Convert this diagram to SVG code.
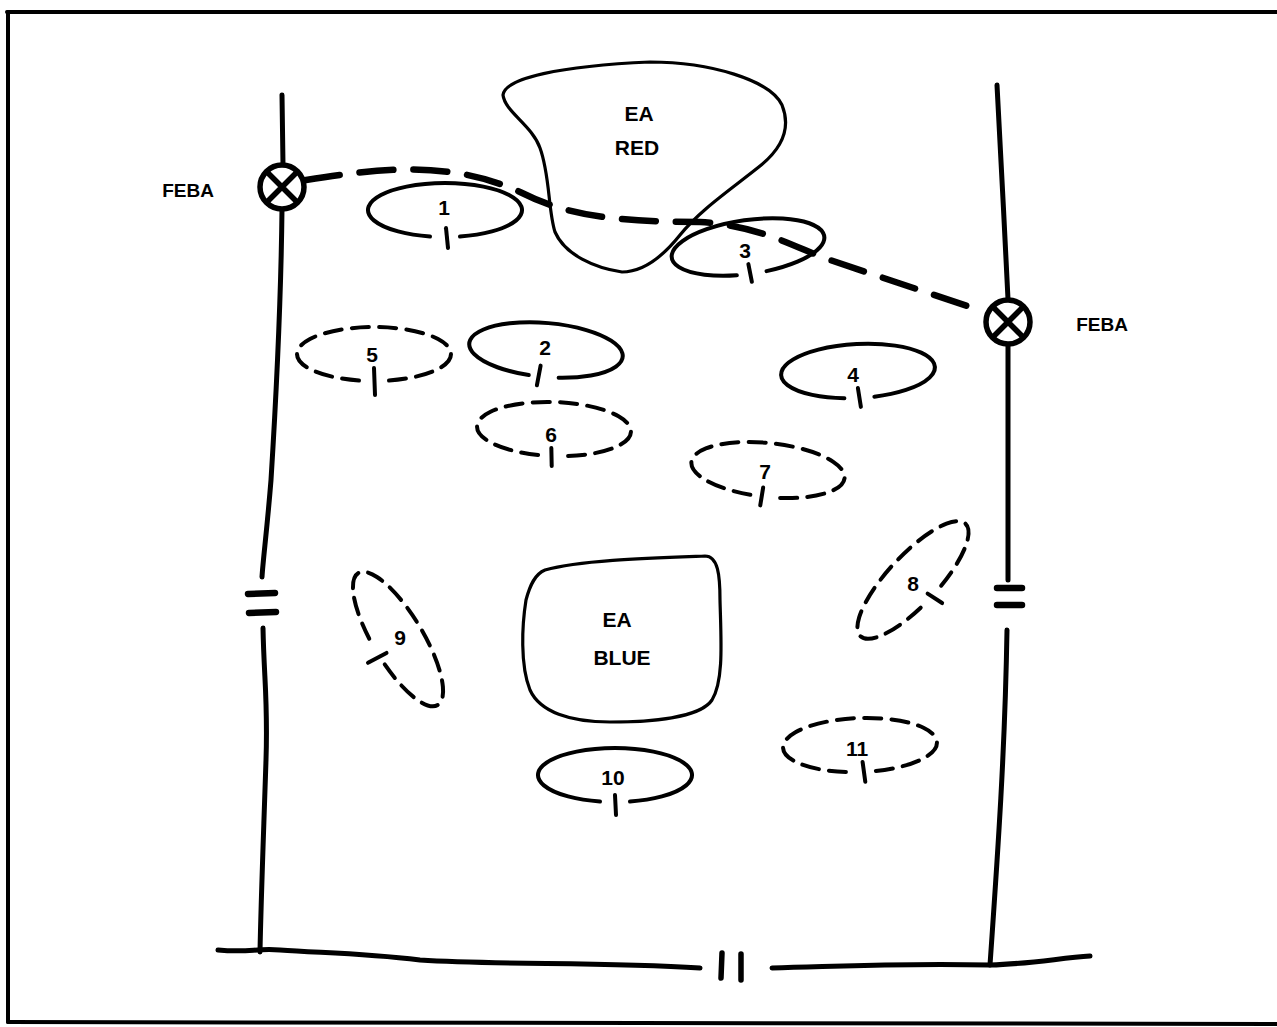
<svg xmlns="http://www.w3.org/2000/svg" xmlns:xlink="http://www.w3.org/1999/xlink" width="1277" height="1027" viewBox="0 0 1277 1027">
<style>
.ln{fill:none;stroke:#000;stroke-linecap:round;stroke-linejoin:round}
.el{fill:none;stroke:#000;stroke-width:4;stroke-linecap:round}
.dash{stroke-dasharray:5.4 3.2}
.tk{fill:none;stroke:#000;stroke-width:4;stroke-linecap:round}
.t{font-family:"Liberation Sans",Arial,sans-serif;font-weight:bold;font-size:21px;fill:#000;text-anchor:middle}
.f{font-family:"Liberation Sans",Arial,sans-serif;font-weight:bold;font-size:19px;fill:#000;text-anchor:middle}
.blob{fill:none;stroke:#000;stroke-width:3.2;stroke-linejoin:round}
</style>
<defs>
<path id="ell" pathLength="100" d="M-15,26.5 A77,27 0 1 1 15,26.5"/>
<path id="ellT" pathLength="100" d="M-15,24.5 A77,25 0 1 1 15,24.5"/>
<g id="xc"><circle cx="0" cy="0" r="22" fill="#fff" stroke="#000" stroke-width="5.5"/><path d="M-15,-15 L15,15 M15,-15 L-15,15" stroke="#000" stroke-width="5.5" stroke-linecap="round"/></g>
</defs>
<rect width="1277" height="1027" fill="#fff"/>
<g id="frame" class="ln" stroke-width="4">
<path d="M7,12 L1277,12"/>
<path d="M8,12 L8,1022"/>
<path d="M8,1022 L1277,1024"/>
</g>
<g id="boundaries" class="ln" stroke-width="5">
<path d="M282,95 L283,165"/>
<path d="M282,209 C281,300 276,400 271,480 C267,530 263,560 262,577"/>
<path d="M263,628 C264,680 268,700 266,760 C263,850 261,900 260,952"/>
<path d="M248,594 L275,593 M249,613 L276,612" stroke-width="6.5"/>
<path d="M997,85 C1000,150 1005,230 1008,299"/>
<path d="M1008,345 L1008,580"/>
<path d="M1007,630 C1005,750 998,850 990,965"/>
<path d="M997,588 L1022,588 M997,605 L1022,605" stroke-width="6.5"/>
<path d="M218,950 C250,953 255,948 280,950 C320,953 360,953 420,960 C500,965 600,962 700,968"/>
<path d="M772,968 C850,966 900,963 990,965 C1030,964 1060,958 1090,956"/>
<path d="M722,953 L721,978 M741,954 L741,980" stroke-width="5.5"/>
</g>
<g id="connectors">
<path id="feba-line" class="ln" stroke-width="6.5" stroke-dasharray="34 20" d="M306,180 C380,168 450,160 520,192 C560,212 600,222 700,222 C760,225 800,250 830,260 L985,312"/>
</g>
<g id="feba-left"><use xlink:href="#xc" transform="translate(282,187)"/><text class="f" x="188" y="197">FEBA</text></g>
<g id="feba-right"><use xlink:href="#xc" transform="translate(1008,322)"/><text class="f" x="1102" y="331">FEBA</text></g>
<g id="ea-red"><path class="blob" d="M503,95 C505,78 560,66 650,62 C710,62 770,80 782,105 C792,130 780,150 760,166 C730,190 700,210 680,235 C660,260 640,272 622,272 C595,268 565,255 555,232 C548,210 550,175 540,148 C532,125 505,112 503,95 Z"/><text class="t" x="639" y="121">EA</text><text class="t" x="637" y="155">RED</text></g>
<g id="ea-blue"><path class="blob" d="M545,570 C580,560 650,558 705,556 C718,556 720,575 720,600 C721,640 724,680 712,700 C700,718 650,722 610,722 C570,722 540,712 530,690 C520,665 522,625 526,600 C530,585 535,574 545,570 Z"/><text class="t" x="617" y="627">EA</text><text class="t" x="622" y="665">BLUE</text></g>
<g id="p1"><g transform="translate(445,210)"><use xlink:href="#ell" class="el"/><path class="tk" d="M1,18 L3,38"/></g><text class="t" x="444" y="215">1</text></g>
<g id="p2"><g transform="translate(546,350) rotate(5)"><use xlink:href="#ell" class="el"/><path class="tk" d="M-4,16 L-6,36"/></g><text class="t" x="545" y="355">2</text></g>
<g id="p3"><g transform="translate(748,247) rotate(-8)"><use xlink:href="#ell" class="el"/><path class="tk" d="M-2,17 L-1,35"/></g><text class="t" x="745" y="258">3</text></g>
<g id="p4"><g transform="translate(858,371) rotate(-3)"><use xlink:href="#ell" class="el"/><path class="tk" d="M-1,17 L1,36"/></g><text class="t" x="853" y="382">4</text></g>
<g id="p5"><g transform="translate(374,354)"><use xlink:href="#ell" class="el dash"/><path class="tk" d="M0,14 L1,41"/></g><text class="t" x="372" y="362">5</text></g>
<g id="p6"><g transform="translate(554,429) rotate(2)"><use xlink:href="#ell" class="el dash"/><path class="tk" d="M-2,19 L-1,37"/></g><text class="t" x="551" y="442">6</text></g>
<g id="p7"><g transform="translate(768,470) rotate(6)"><use xlink:href="#ell" class="el dash"/><path class="tk" d="M-3,18 L-4,36"/></g><text class="t" x="765" y="479">7</text></g>
<g id="p8"><g transform="translate(913,580) rotate(-47)"><use xlink:href="#ellT" class="el dash"/><path class="tk" d="M0,20 L3,37"/></g><text class="t" x="913" y="591">8</text></g>
<g id="p9"><g transform="translate(398,639) rotate(59)"><use xlink:href="#ellT" class="el dash"/><path class="tk" d="M6,17 L5,38"/></g><text class="t" x="400" y="645">9</text></g>
<g id="p10"><g transform="translate(615,775)"><use xlink:href="#ell" class="el"/><path class="tk" d="M0,20 L1,40"/></g><text class="t" x="613" y="785">10</text></g>
<g id="p11"><g transform="translate(860,745) rotate(-2)"><use xlink:href="#ell" class="el dash"/><path class="tk" d="M2,17 L4,37"/></g><text class="t" x="857" y="756">11</text></g>
</svg>
